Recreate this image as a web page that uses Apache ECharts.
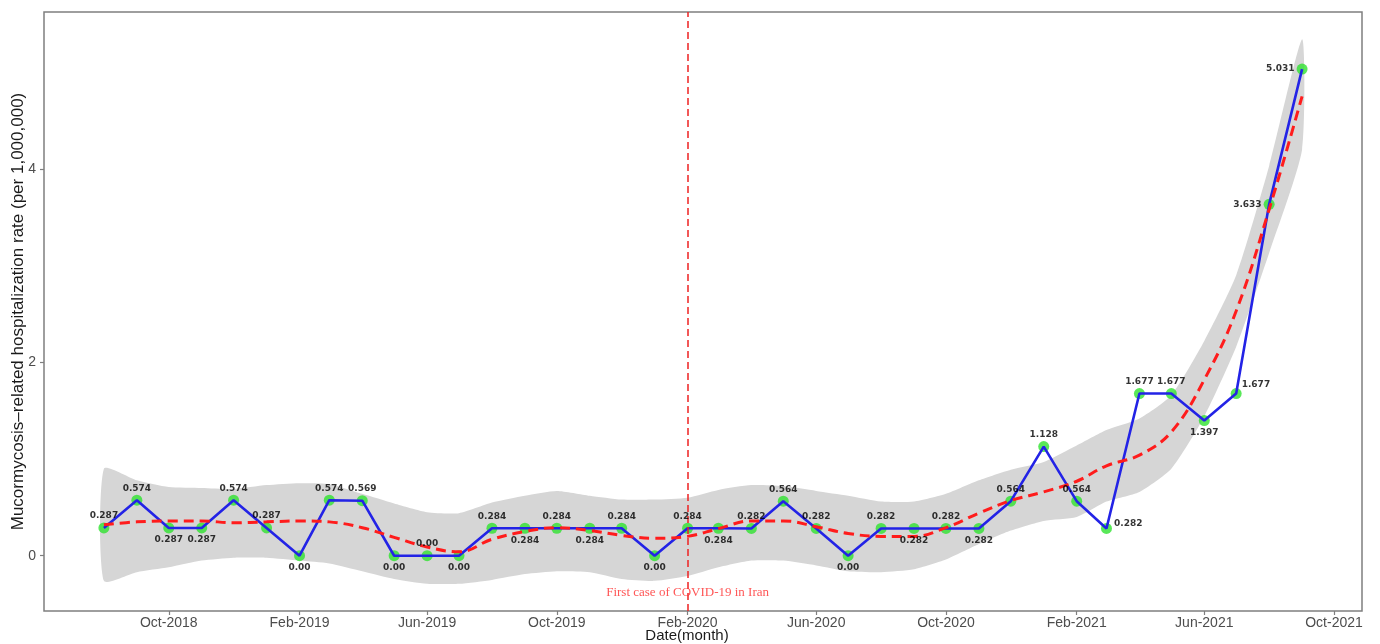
<!DOCTYPE html>
<html>
<head>
<meta charset="utf-8">
<title>Mucormycosis-related hospitalization rate</title>
<script src="https://cdn.jsdelivr.net/npm/echarts@6/dist/echarts.min.js"></script>
<style>
  html, body { margin: 0; padding: 0; background: #ffffff; }
  #chart { width: 1380px; height: 644px; }
</style>
</head>
<body>
<div id="chart"></div>
<script>
// Monthly observations (first day of each month)
const months = [
  '2018-08','2018-09','2018-10','2018-11','2018-12','2019-01','2019-02','2019-03',
  '2019-04','2019-05','2019-06','2019-07','2019-08','2019-09','2019-10','2019-11',
  '2019-12','2020-01','2020-02','2020-03','2020-04','2020-05','2020-06','2020-07',
  '2020-08','2020-09','2020-10','2020-11','2020-12','2021-01','2021-02','2021-03',
  '2021-04','2021-05','2021-06','2021-07','2021-08','2021-09'
];

// Hospitalization rate per 1,000,000
const rate = [
  0.287, 0.574, 0.287, 0.287, 0.574, 0.287, 0.00, 0.574,
  0.569, 0.00, 0.00, 0.00, 0.284, 0.284, 0.284, 0.284,
  0.284, 0.00, 0.284, 0.284, 0.282, 0.564, 0.282, 0.00,
  0.282, 0.282, 0.282, 0.282, 0.564, 1.128, 0.564, 0.282,
  1.677, 1.677, 1.397, 1.677, 3.633, 5.031
];

// Smoothed trend (loess) and its confidence band
const loessFit = [
  0.32, 0.35, 0.36, 0.36, 0.34, 0.35, 0.36, 0.35,
  0.29, 0.19, 0.09, 0.04, 0.17, 0.25, 0.29, 0.26,
  0.21, 0.18, 0.20, 0.28, 0.36, 0.36, 0.30, 0.23,
  0.20, 0.20, 0.29, 0.44, 0.57, 0.66, 0.77, 0.93,
  1.04, 1.28, 1.82, 2.53, 3.58, 4.75
];
const ciUpper = [
  0.90, 0.78, 0.71, 0.70, 0.69, 0.73, 0.75, 0.74,
  0.64, 0.54, 0.45, 0.44, 0.55, 0.62, 0.67, 0.62,
  0.58, 0.58, 0.60, 0.68, 0.73, 0.72, 0.67, 0.62,
  0.56, 0.56, 0.64, 0.78, 0.89, 0.97, 1.14, 1.30,
  1.42, 1.66, 2.22, 2.90, 4.03, 5.34
];
const ciLower = [
  -0.26, -0.17, -0.12, -0.05, -0.02, -0.02, -0.05, -0.08,
  -0.16, -0.24, -0.29, -0.29, -0.25, -0.19, -0.16, -0.17,
  -0.24, -0.26, -0.21, -0.12, -0.05, -0.05, -0.10, -0.16,
  -0.17, -0.14, -0.04, 0.12, 0.26, 0.36, 0.40, 0.56,
  0.66, 0.90, 1.44, 2.16, 3.13, 4.20
];

// Axis ticks
const tickMonths = ['2018-10','2019-02','2019-06','2019-10','2020-02','2020-06','2020-10','2021-02','2021-06','2021-10'];
const yTicks = [0, 2, 4];

// Event marker
const covidMonth = '2020-02';
const covidNote = 'First case of COVID-19 in Iran';

const yTitle = 'Mucormycosis\u2013related hospitalization rate (per 1,000,000)';
const xTitle = 'Date(month)';

// Where each value label sits relative to its point
const labelSide = [
  'top','top','bottom','bottom','top','top','bottom','top',
  'top','bottom','top','bottom','top','bottom','top','bottom',
  'top','bottom','top','bottom','top','top','top','bottom',
  'top','bottom','top','bottom','top','top','top','right',
  'top','top','bottom','right','left','left'
];

const MON = ['Jan','Feb','Mar','Apr','May','Jun','Jul','Aug','Sep','Oct','Nov','Dec'];
function ts(m) {
  const [y, mo] = m.split('-').map(Number);
  return Date.UTC(y, mo - 1, 1);
}
function monthLabel(v) {
  const d = new Date(v);
  return MON[d.getUTCMonth()] + '-' + d.getUTCFullYear();
}
function fmtRate(v) {
  return v === 0 ? '0.00' : v.toFixed(3);
}

const times = months.map(ts);
const tickTs = tickMonths.map(ts);

// 5% padding on both axes
const xPad = (times[times.length - 1] - times[0]) * 0.05;
const xMin = times[0] - xPad;
const xMax = times[times.length - 1] + xPad;
const yLo = Math.min(...ciLower, ...rate);
const yHi = Math.max(...ciUpper, ...rate);
const yPad = (yHi - yLo) * 0.05;
const yMin = yLo - yPad;
const yMax = yHi + yPad;

const pointData = times.map((t, i) => [t, rate[i]]);
const fitData = times.map((t, i) => [t, loessFit[i]]);

const labelData = times.map((t, i) => {
  const side = labelSide[i];
  const lab = { position: side, distance: 2 };
  if (side === 'right') { lab.offset = [0, -5]; }
  if (i === 35) { lab.offset = [-2, -9]; }
  return { value: [t, rate[i]], label: lab };
});

const FONT = 'Liberation Sans, Arial, sans-serif';

const chart = echarts.init(document.getElementById('chart'), null, { renderer: 'canvas' });

chart.setOption({
  backgroundColor: '#ffffff',
  animation: false,
  grid: {
    left: 44, right: 18, top: 12, bottom: 33,
    containLabel: false,
    outerBoundsMode: 'none',
    show: true, borderColor: '#7f7f7f', borderWidth: 1.5, backgroundColor: '#ffffff'
  },
  xAxis: {
    type: 'value',
    min: xMin, max: xMax,
    scale: true,
    splitLine: { show: false },
    axisLine: { show: false, onZero: false },
    axisTick: {
      show: true, customValues: tickTs, length: 4,
      lineStyle: { color: '#7f7f7f', width: 1.2 }
    },
    axisLabel: {
      customValues: tickTs,
      formatter: (v) => monthLabel(v),
      color: '#4d4d4d', fontSize: 14, fontFamily: FONT, margin: 5,
      hideOverlap: false
    }
  },
  yAxis: {
    type: 'value',
    min: yMin, max: yMax,
    splitLine: { show: false },
    axisLine: { show: false, onZero: false },
    axisTick: {
      show: true, customValues: yTicks, length: 4,
      lineStyle: { color: '#7f7f7f', width: 1.2 }
    },
    axisLabel: {
      customValues: yTicks,
      formatter: (v) => String(v),
      color: '#4d4d4d', fontSize: 14, fontFamily: FONT, margin: 8
    },
    name: yTitle,
    nameLocation: 'middle',
    nameGap: 17,
    nameMoveOverlap: false,
    nameTextStyle: { fontSize: 17, color: '#1a1a1a', fontFamily: FONT }
  },
  graphic: [{
    type: 'text',
    style: {
      x: 687, y: 636, text: xTitle,
      align: 'center', verticalAlign: 'middle',
      font: '15px ' + FONT, fill: '#1a1a1a'
    }
  }],
  series: [
    {
      // Confidence band of the smoothed trend
      type: 'custom',
      z: 1,
      silent: true,
      data: [[times[0], ciLower[0]]],
      renderItem: function (params, api) {
        const pts = [];
        for (let i = 0; i < times.length; i++) pts.push(api.coord([times[i], ciUpper[i]]));
        for (let i = times.length - 1; i >= 0; i--) pts.push(api.coord([times[i], ciLower[i]]));
        return {
          type: 'polygon',
          shape: { points: pts, smooth: 0.2 },
          style: { fill: '#d6d6d6' }
        };
      }
    },
    {
      // Observed points
      type: 'scatter',
      z: 2,
      data: pointData,
      symbol: 'circle',
      symbolSize: 11,
      itemStyle: { color: '#2fe22f' },
      silent: true
    },
    {
      // Observed series line
      type: 'line',
      z: 3,
      data: pointData,
      showSymbol: false,
      lineStyle: { color: '#2323e6', width: 2.6 },
      silent: true
    },
    {
      // Smoothed trend
      type: 'line',
      z: 4,
      data: fitData,
      smooth: 0.4,
      showSymbol: false,
      lineStyle: { color: '#ff1c1c', width: 3, type: [10, 6] },
      silent: true,
      markLine: {
        silent: true,
        symbol: ['none', 'none'],
        label: { show: false },
        lineStyle: { color: '#ee2222', width: 1.5, type: [7, 4] },
        data: [{ xAxis: ts(covidMonth) }]
      }
    },
    {
      // Event note, anchored on the bottom of the value axis
      type: 'scatter',
      z: 5,
      symbolSize: 0,
      silent: true,
      data: [[ts(covidMonth), yMin]],
      label: {
        show: true,
        position: 'top',
        distance: 12,
        formatter: covidNote,
        color: '#ff2a2a',
        fontSize: 13,
        fontFamily: 'Liberation Serif, Times New Roman, serif'
      }
    },
    {
      // Value labels
      type: 'scatter',
      z: 6,
      symbolSize: 11,
      silent: true,
      itemStyle: { color: 'rgba(0,0,0,0)' },
      data: labelData,
      label: {
        show: true,
        formatter: (p) => fmtRate(p.value[1]),
        color: '#000000',
        fontSize: 9,
        fontWeight: 'bold',
        fontFamily: 'DejaVu Sans, sans-serif'
      }
    }
  ]
});
</script>
</body>
</html>
